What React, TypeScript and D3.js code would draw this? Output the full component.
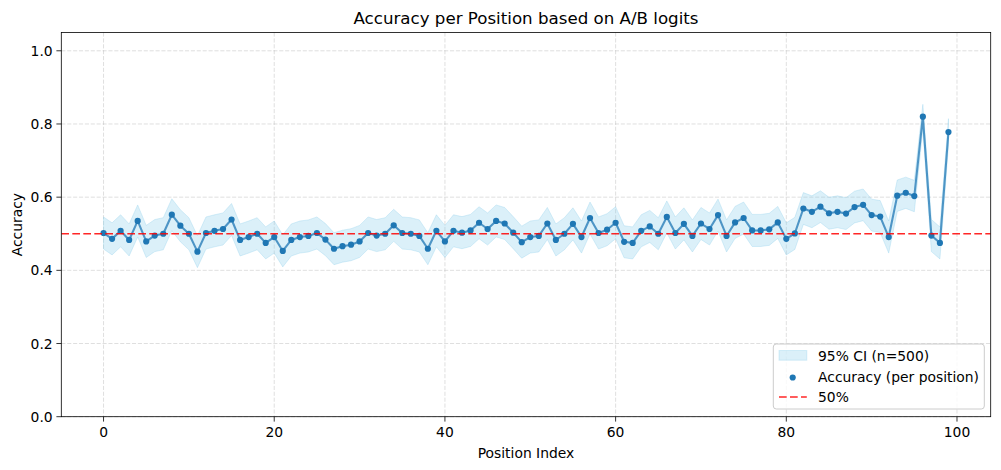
import React from "react";
import * as d3 from "d3";

const positions: number[] = d3.range(100);
const accuracy: number[] = [
  0.502, 0.486, 0.508, 0.483, 0.535, 0.479, 0.495, 0.500, 0.552, 0.522,
  0.500, 0.451, 0.502, 0.508, 0.513, 0.539, 0.483, 0.491, 0.500, 0.475,
  0.491, 0.453, 0.483, 0.491, 0.494, 0.502, 0.484, 0.459, 0.466, 0.470,
  0.479, 0.502, 0.495, 0.500, 0.523, 0.502, 0.500, 0.494, 0.459, 0.508,
  0.479, 0.508, 0.503, 0.509, 0.530, 0.513, 0.535, 0.528, 0.503, 0.477,
  0.491, 0.494, 0.528, 0.483, 0.500, 0.527, 0.491, 0.543, 0.502, 0.511,
  0.530, 0.478, 0.475, 0.508, 0.520, 0.500, 0.546, 0.502, 0.527, 0.494,
  0.528, 0.513, 0.551, 0.494, 0.531, 0.543, 0.509, 0.509, 0.512, 0.531,
  0.486, 0.501, 0.569, 0.560, 0.574, 0.556, 0.560, 0.555, 0.573, 0.579,
  0.551, 0.547, 0.491, 0.604, 0.612, 0.603, 0.820, 0.495, 0.475, 0.778,
];
const sampleSize = 500;
const xTicks: number[] = [0, 20, 40, 60, 80, 100];
const yTicks: number[] = [0, 0.2, 0.4, 0.6, 0.8, 1.0];
const legendLabels: string[] = ["95% CI (n=500)", "Accuracy (per position)", "50%"];
const title = "Accuracy per Position based on A/B logits";

const W = 1001;
const H = 470;
const L = 61.3, R = 990.7, T = 32.5, B = 416.7;
const FONT = "DejaVu Sans, sans-serif";

export default function App() {
  const x = d3.scaleLinear().domain([-4.95, 103.95]).range([L, R]);
  const y = d3.scaleLinear().domain([0, 1.05]).range([B, T]);

  const rows = positions.map((p, i) => {
    const a = accuracy[i];
    const h = 1.96 * Math.sqrt((a * (1 - a)) / sampleSize);
    return { p, a, lo: a - h, hi: a + h };
  });

  const area = d3
    .area<(typeof rows)[number]>()
    .x((d) => x(d.p))
    .y0((d) => y(d.lo))
    .y1((d) => y(d.hi));
  const line = d3
    .line<(typeof rows)[number]>()
    .x((d) => x(d.p))
    .y((d) => y(d.a));

  const gridDash = "2.96 1.28".split(" ").map((v) => +v * 1.389).join(" ");

  return (
    <svg
      width={W}
      height={H}
      style={{ position: "absolute", left: 0, top: 0, background: "#fff" }}
      fontFamily={FONT}
    >
      <rect x={0} y={0} width={W} height={H} fill="#fff" />
      <defs>
        <clipPath id="plot">
          <rect x={L} y={T} width={R - L} height={B - T} />
        </clipPath>
      </defs>
      {/* grid */}
      <g stroke="#b0b0b0" strokeOpacity={0.5} strokeWidth={0.8} strokeDasharray={gridDash}>
        {xTicks.map((t) => (
          <line key={"gx" + t} x1={x(t)} x2={x(t)} y1={T} y2={B} />
        ))}
        {yTicks.map((t) => (
          <line key={"gy" + t} x1={L} x2={R} y1={y(t)} y2={y(t)} />
        ))}
      </g>
      <g clipPath="url(#plot)">
        <path
          d={area(rows) || ""}
          fill="#87CEEB"
          fillOpacity={0.3}
          stroke="#87CEEB"
          strokeOpacity={0.3}
          strokeWidth={1}
        />
        <path
          d={line(rows) || ""}
          fill="none"
          stroke="#1f77b4"
          strokeOpacity={0.75}
          strokeWidth={2.08}
          strokeLinejoin="round"
        />
        {rows.map((d) => (
          <circle key={d.p} cx={x(d.p)} cy={y(d.a)} r={3.1} fill="#1f77b4" />
        ))}
        <line
          x1={L}
          x2={R}
          y1={y(0.5)}
          y2={y(0.5)}
          stroke="red"
          strokeOpacity={0.85}
          strokeWidth={1.5}
          strokeDasharray="7.7 3.3"
        />
      </g>
      {/* axes frame */}
      <rect x={L} y={T} width={R - L} height={B - T} fill="none" stroke="#000" strokeWidth={0.8} />
      {/* x ticks */}
      {xTicks.map((t) => (
        <g key={"xt" + t}>
          <line x1={x(t)} x2={x(t)} y1={B} y2={B + 4.9} stroke="#000" strokeWidth={0.8} />
          <text x={x(t)} y={B + 19.8} textAnchor="middle" fontSize={13.89} fill="#000">
            {t}
          </text>
        </g>
      ))}
      {yTicks.map((t) => (
        <g key={"yt" + t}>
          <line x1={L - 4.9} x2={L} y1={y(t)} y2={y(t)} stroke="#000" strokeWidth={0.8} />
          <text x={L - 8.6} y={y(t) + 5} textAnchor="end" fontSize={13.89} fill="#000">
            {t.toFixed(1)}
          </text>
        </g>
      ))}
      <text x={(L + R) / 2} y={24} textAnchor="middle" fontSize={16.67} fill="#000">
        {title}
      </text>
      <text x={(L + R) / 2} y={458} textAnchor="middle" fontSize={13.89} fill="#000">
        Position Index
      </text>
      <text
        transform={`translate(21.5, ${(T + B) / 2}) rotate(-90)`}
        textAnchor="middle"
        fontSize={13.89}
        fill="#000"
      >
        Accuracy
      </text>
      {/* legend */}
      <g>
        <rect
          x={773.3}
          y={344}
          width={211}
          height={65}
          rx={3}
          fill="#fff"
          fillOpacity={0.8}
          stroke="#cccccc"
          strokeWidth={1}
        />
        <rect x={779} y={350.5} width={27.8} height={9.7} fill="#87CEEB" fillOpacity={0.3} stroke="#87CEEB" strokeOpacity={0.3} />
        <text x={818} y={360.5} fontSize={13.89} fill="#000">
          {legendLabels[0]}
        </text>
        <circle cx={792.7} cy={377.5} r={3.1} fill="#1f77b4" />
        <text x={818} y={381.5} fontSize={13.89} fill="#000">
          {legendLabels[1]}
        </text>
        <line x1={779} x2={806.8} y1={397} y2={397} stroke="red" strokeOpacity={0.85} strokeWidth={1.5} strokeDasharray="7.7 3.3" />
        <text x={818} y={402} fontSize={13.89} fill="#000">
          {legendLabels[2]}
        </text>
      </g>
    </svg>
  );
}
